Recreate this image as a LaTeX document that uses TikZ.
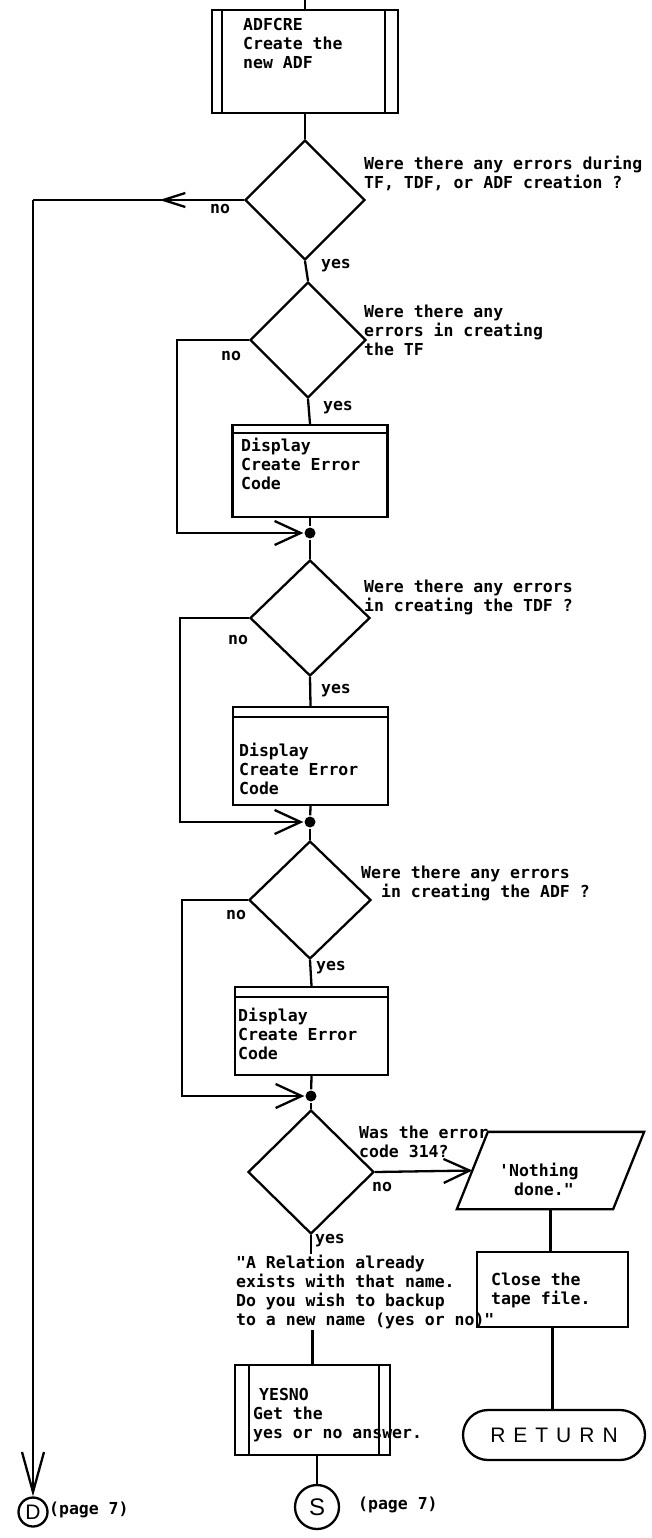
\documentclass[tikz,border=0pt]{standalone}
\usepackage{fontspec}
\setmainfont{DejaVu Sans Mono}
\newfontfamily\monof{DejaVu Sans Mono Bold}
\newfontfamily\sansf{Liberation Sans}
\usetikzlibrary{arrows.meta,shapes.geometric,decorations.markings}
\begin{document}
\begin{tikzpicture}[x=1pt,y=-1pt,line width=2.3pt,
  txt/.style={font=\monof\fontsize{16.5}{19}\selectfont, align=left, inner sep=0pt, anchor=north west},
  lbl/.style={font=\monof\fontsize{16.5}{19}\selectfont, inner sep=0pt},
  dia/.style={draw, diamond, inner sep=0pt},
  box/.style={draw, rectangle, inner sep=0pt},
  dot/.style={circle, fill, inner sep=0pt, minimum size=11pt},
  barb/.style={-{Straight Barb[length=26pt,width=24pt]}},
  midarrow/.style={postaction={decorate}, decoration={markings, mark=at position 0.4 with {\arrow{Straight Barb[length=22pt,width=14pt]}}}},
  conn/.style={draw, circle, inner sep=0pt},
]
\useasboundingbox (0,0) rectangle (652,1538);

% ADFCRE
\coordinate (top) at (305,0);
\node[box, minimum width=186pt, minimum height=103pt] (adf) at (305,61.5) {};
\draw ([xshift=11pt]adf.north west) -- ([xshift=11pt]adf.south west);
\draw ([xshift=-14pt]adf.north east) -- ([xshift=-14pt]adf.south east);
\node[txt] (adft) at (242,17) {ADFCRE\\Create the\\new ADF};
\draw (top) -- (adf.north);

% decision 1
\node[dia, minimum width=120pt, minimum height=120pt] (d1) at (305,200) {};
\draw (adf.south) -- (d1.north);
\node[txt] (q1) at (363,155) {Were there any errors during\\TF, TDF, or ADF creation ?};
\node[lbl] (n1) at (220,209) {no};
\node[lbl] (y1) at (336,266) {yes};
\coordinate (c1) at (33,200);
\draw[midarrow] (d1.west) -- (c1);
\node[conn, minimum size=29pt, font=\sansf\fontsize{21}{21}\selectfont] (D) at (33,1512) {D};
\draw[-{Straight Barb[length=40pt,width=22pt]}] (c1) -- (D.north);
\node[lbl, anchor=west] (pD) at (48,1510) {(page 7)};

% decision 2
\node[dia, minimum width=116pt, minimum height=116pt] (d2) at (308,340) {};
\draw (d1.south) -- (d2.north);
\node[txt] (q2) at (363,304) {Were there any\\errors in creating\\the TF};
\node[lbl] (n2) at (231,356) {no};
\node[lbl] (y2) at (338,408) {yes};
\node[box, minimum width=155pt, minimum height=92pt] (p1) at (310,471) {};
\draw ([yshift=-9pt]p1.north west) -- ([yshift=-9pt]p1.north east);
\node[txt] (p1t) at (240,437) {Display\\Create Error\\Code};
\draw (d2.south) -- (p1.north);
\node[dot] (j1) at (310,533) {};
\draw (p1.south) -- (j1);
\draw[barb] (d2.west) -- ++(-72,0) |- (j1);

% decision 3
\node[dia, minimum width=120pt, minimum height=116pt] (d3) at (310,618) {};
\draw (j1) -- (d3.north);
\node[txt] (q3) at (363,579) {Were there any errors\\in creating the TDF ?};
\node[lbl] (n3) at (238,640) {no};
\node[lbl] (y3) at (336,691) {yes};
\node[box, minimum width=155pt, minimum height=98pt] (p2) at (310.5,756) {};
\draw ([yshift=-11pt]p2.north west) -- ([yshift=-11pt]p2.north east);
\node[txt] (p2t) at (238,742) {Display\\Create Error\\Code};
\draw (d3.south) -- (p2.north);
\node[dot] (j2) at (310,822) {};
\draw (p2.south) -- (j2);
\draw[barb] (d3.west) -- ++(-69,0) |- (j2);

% decision 4
\node[dia, minimum width=122pt, minimum height=118pt] (d4) at (310,900) {};
\draw (j2) -- (d4.north);
\node[txt] (q4) at (360,865) {Were there any errors\\\hspace*{20pt}in creating the ADF ?};
\node[lbl] (n4) at (236,915) {no};
\node[lbl] (y4) at (331,968) {yes};
\node[box, minimum width=153pt, minimum height=88pt] (p3) at (311.5,1031) {};
\draw ([yshift=-11pt]p3.north west) -- ([yshift=-11pt]p3.north east);
\node[txt] (p3t) at (237,1007) {Display\\Create Error\\Code};
\draw (d4.south) -- (p3.north);
\node[dot] (j3) at (311,1096) {};
\draw (p3.south) -- (j3);
\draw[barb] (d4.west) -- ++(-66,0) |- (j3);

% decision 5
\node[dia, minimum width=126pt, minimum height=124pt] (d5) at (311,1172) {};
\draw (j3) -- (d5.north);
\node[txt] (q5) at (358,1125) {Was the error\\code 314?};
\node[rectangle, inner sep=0pt, minimum width=154pt, minimum height=75pt] (par) at (550.5,1170.5) {};
\draw ([xshift=-15.5pt]par.south west) -- ([xshift=-15.5pt]par.south east)
   -- ([xshift=15.5pt]par.north east) -- ([xshift=15.5pt]par.north west) -- cycle;
\node[txt] (part) at (498,1162) {'Nothing\\\hspace*{15pt}done."};
\draw[barb] (d5.east) -- (par.west);
\node[lbl] (n5) at (382,1187) {no};
\node[lbl] (y5) at (330,1241) {yes};

% relation message
\node[txt] (rel) at (235,1254) {"A Relation already\\exists with that name.\\Do you wish to backup\\to a new name (yes or no)"};
\draw (d5.south) -- (d5.south |- rel.north);

% close tape file
\node[box, minimum width=151pt, minimum height=75pt] (close) at (552.5,1289.5) {};
\node[txt] (closet) at (490,1272) {Close the\\tape file.};
\draw (par.south) -- (par.south |- close.north);

% RETURN
\node[draw, rounded corners=25pt, minimum width=182pt, minimum height=50pt, inner sep=0pt, font=\sansf\fontsize{21}{21}\selectfont] (ret) at (554,1435) {R\hspace{8pt}E\hspace{8pt}T\hspace{8pt}U\hspace{8pt}R\hspace{8pt}N};
\draw (close.south) -- (close.south |- ret.north);

% YESNO
\node[box, minimum width=155pt, minimum height=90pt] (yn) at (312.5,1410) {};
\draw ([xshift=15pt]yn.north west) -- ([xshift=15pt]yn.south west);
\draw ([xshift=-12pt]yn.north east) -- ([xshift=-12pt]yn.south east);
\node[txt] (ynt) at (252,1387) {\hspace*{6pt}YESNO\\Get the\\yes or no answer.};
\draw (yn.north |- rel.south) -- (yn.north);
\node[conn, minimum size=44pt, font=\sansf\fontsize{24}{24}\selectfont] (S) at (317,1507) {S};
\draw (S.north |- yn.south) -- (S.north);
\node[lbl, anchor=west] (pS) at (357,1505) {(page 7)};
\end{tikzpicture}
\end{document}
